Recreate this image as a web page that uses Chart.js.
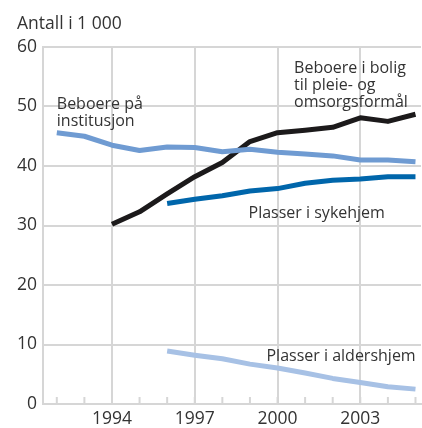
<!DOCTYPE html>
<html>
<head>
<meta charset="utf-8">
<script src="https://cdn.jsdelivr.net/npm/chart.js@4.4.1/dist/chart.umd.min.js"></script>
<style>
  html, body { margin: 0; padding: 0; background: #fff; }
  #wrap { width: 422px; height: 428px; position: relative; }
</style>
</head>
<body>
<div id="wrap"><canvas id="chart" width="422" height="428"></canvas></div>
<script>
// Data, antall i 1 000
const years = [1992, 1993, 1994, 1995, 1996, 1997, 1998, 1999, 2000, 2001, 2002, 2003, 2004, 2005];
const institusjon = [45.6, 45.0, 43.5, 42.6, 43.2, 43.1, 42.4, 42.8, 42.3, 42.0, 41.7, 41.0, 41.0, 40.7];
const bolig = [null, null, 30.2, 32.3, 35.3, 38.2, 40.6, 44.1, 45.6, 46.0, 46.5, 48.1, 47.5, 48.7];
const sykehjem = [null, null, null, null, 33.7, 34.4, 35.0, 35.8, 36.2, 37.1, 37.6, 37.8, 38.2, 38.2];
const aldershjem = [null, null, null, null, 8.9, 8.2, 7.6, 6.7, 6.05, 5.2, 4.3, 3.6, 2.9, 2.5];
const labeledYears = [1994, 1997, 2000, 2003];
const yTicks = [0, 10, 20, 30, 40, 50, 60];

const FONT = '"Open Sans", sans-serif';
const TEXT = '#333333';
const GRID = '#d6d6d6';

const pts = vals => years.map((yr, i) => ({ x: yr, y: vals[i] }));

function line(label, vals, color) {
  return {
    label, data: pts(vals), borderColor: color, borderWidth: 5,
    pointRadius: 0, tension: 0, fill: false,
    borderCapStyle: 'butt', borderJoinStyle: 'round'
  };
}

// Series labels in data coordinates
const seriesLabels = [
  { lines: ['Beboere på', 'institusjon'], x: 1992.0, y: 49.6 },
  { lines: ['Beboere i bolig', 'til pleie- og', 'omsorgsformål'], x: 2000.6, y: 55.6 },
  { lines: ['Plasser i sykehjem'], x: 1998.95, y: 31.3 },
  { lines: ['Plasser i aldershjem'], x: 1999.6, y: 7.3 }
];

const extras = {
  id: 'extras',
  afterDraw(chart) {
    const { ctx, scales: { x, y } } = chart;
    ctx.save();
    // small inward ticks on the x axis
    ctx.strokeStyle = GRID;
    ctx.lineWidth = 2;
    const y0 = y.getPixelForValue(0);
    years.forEach(yr => {
      const px = x.getPixelForValue(yr);
      ctx.beginPath();
      ctx.moveTo(px, y0);
      ctx.lineTo(px, y0 - 7);
      ctx.stroke();
    });
    ctx.fillStyle = TEXT;
    ctx.textBaseline = 'alphabetic';
    ctx.textAlign = 'left';
    ctx.font = '17.5px ' + FONT;
    ctx.fillText('Antall i 1 000', 17, 29);
    ctx.font = '16px ' + FONT;
    seriesLabels.forEach(l => {
      const px = x.getPixelForValue(l.x);
      const py = y.getPixelForValue(l.y);
      l.lines.forEach((t, i) => ctx.fillText(t, px, py + i * 17));
    });
    ctx.restore();
  }
};

new Chart(document.getElementById('chart'), {
  type: 'line',
  data: {
    datasets: [
      line('Beboere på institusjon', institusjon, '#6f9bd2'),
      line('Plasser i aldershjem', aldershjem, '#a7c1e5'),
      line('Plasser i sykehjem', sykehjem, '#0066ab'),
      line('Beboere i bolig til pleie- og omsorgsformål', bolig, '#1c1a1b')
    ]
  },
  options: {
    responsive: false,
    animation: false,
    layout: { padding: { top: 47, right: 1, left: 0, bottom: 0 } },
    plugins: { legend: { display: false }, tooltip: { enabled: false } },
    scales: {
      x: {
        type: 'linear', min: 1991.5, max: 2005.2,
        afterBuildTicks: s => { s.ticks = years.map(v => ({ value: v })); },
        afterFit: s => { s.height = 24; },
        grid: {
          drawTicks: false,
          lineWidth: 2,
          color: c => labeledYears.includes(c.tick && c.tick.value) ? GRID : 'rgba(0,0,0,0)'
        },
        border: { color: GRID, width: 2 },
        ticks: {
          autoSkip: false, maxRotation: 0, padding: 5,
          color: TEXT, font: { family: FONT, size: 17.5 },
          callback: v => labeledYears.includes(v) ? String(v) : ''
        }
      },
      y: {
        min: 0, max: 60,
        afterBuildTicks: s => { s.ticks = yTicks.map(v => ({ value: v })); },
        afterFit: s => { s.width = 43; },
        grid: { drawTicks: false, lineWidth: 2, color: GRID },
        border: { color: GRID, width: 2 },
        ticks: { padding: 6, color: TEXT, font: { family: FONT, size: 17.5 } }
      }
    }
  },
  plugins: [extras]
});
</script>
</body>
</html>
